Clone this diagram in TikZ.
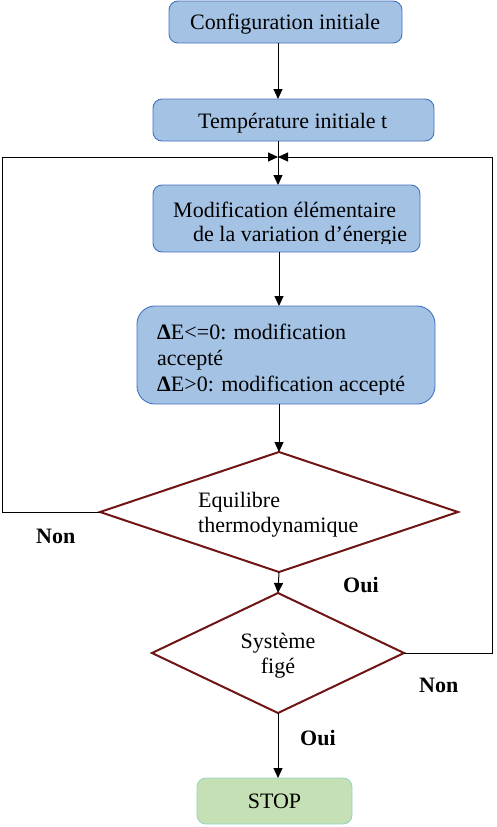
\documentclass[tikz,border=0pt]{standalone}
\usepackage{fontspec}
\setmainfont{Liberation Serif}
\usetikzlibrary{arrows.meta,shapes.geometric,calc}
\definecolor{bfill}{RGB}{164,194,228}
\definecolor{bline}{RGB}{68,114,196}
\definecolor{gfill}{RGB}{197,224,180}
\definecolor{gline}{RGB}{150,212,196}
\definecolor{dred}{RGB}{112,20,20}
\tikzset{
  bbox/.style={draw=bline,fill=bfill,line width=0.9pt,rounded corners=9pt,inner sep=0pt,outer sep=0pt},
  dbox/.style={draw=dred,line width=2pt,diamond,inner sep=0pt,outer sep=0pt},
  txt/.style={anchor=base west,inner sep=0pt,font=\fontsize{22}{26}\selectfont},
  lab/.style={anchor=base west,inner sep=0pt,font=\fontsize{22}{26}\selectfont\bfseries},
  arr/.style={draw=black,line width=1pt,-{Triangle[length=10pt,width=9pt]}}
}
\begin{document}
\begin{tikzpicture}[x=1pt,y=-1pt]
\useasboundingbox (0,0) rectangle (497,827);
\coordinate (spine) at (278,0);
\coordinate (join) at (278,157);
\coordinate (lx) at (2,0);
\coordinate (rx) at (492,0);
% boxes
\node[bbox,minimum width=233pt,minimum height=42pt] (b1) at (285.5,22) {};
\node[txt] (t1) at (190,29) {Configuration initiale};
\node[bbox,minimum width=281pt,minimum height=42pt] (b2) at (293.5,120) {};
\node[txt] (t2) at (198,128) {Température initiale t};
\node[bbox,minimum width=267pt,minimum height=67pt] (b3) at (286.5,218.5) {};
\begin{scope}
\clip (150,180) rectangle (425,243.5);
\node[txt] (t3a) at (173,217) {Modification élémentaire};
\node[txt] (t3b) at (193,241) {de la variation d’énergie};
\end{scope}
\node[bbox,rounded corners=18pt,minimum width=298pt,minimum height=98pt] (b4) at (286,355) {};
\begin{scope}
\clip (135,300) rectangle (440,394);
\node[txt] (t4a) at (157,339) {\textbf{Δ}E<=0: modification};
\node[txt] (t4b) at (157,365) {accepté};
\node[txt] (t4c) at (157,391) {\textbf{Δ}E>0: modification accepté};
\end{scope}
% decisions
\node[dbox,minimum width=358pt,minimum height=120pt] (d1) at (279,512) {};
\node[txt] (t5a) at (198,507) {Equilibre};
\node[txt] (t5b) at (198,532) {thermodynamique};
\node[dbox,minimum width=252pt,minimum height=120pt] (d2) at (278,653) {};
\node[txt,anchor=base] (t6a) at (278,648) {Système};
\node[txt,anchor=base] (t6b) at (278,673) {figé};
\node[bbox,draw=gline,fill=gfill,minimum width=155pt,minimum height=46pt] (stop) at (274.5,801) {};
\node[txt,anchor=base] (t7) at (274.5,808) {STOP};
% labels
\node[lab] (non1) at (36,543) {Non};
\node[lab] (oui1) at (343,592) {Oui};
\node[lab] (non2) at (419,692) {Non};
\node[lab] (oui2) at (300,745) {Oui};
% connectors
\draw[arr] (spine |- b1.south) -- (spine |- b2.north);
\draw[arr] (spine |- b2.south) -- (spine |- b3.north);
\draw[arr] (d1.north |- b3.south) -- (d1.north |- b4.north);
\draw[arr] (d1.north |- b4.south) -- (d1.north);
\draw[arr] (d1.south) -- (d2.north);
\draw[arr] (d2.south) -- (d2.south |- stop.north);
\draw[arr] (d1.west) -- (d1.west -| lx) -- (lx |- join) -- (join);
\draw[arr] (d2.east) -- (d2.east -| rx) -- (rx |- join) -- (join);
\end{tikzpicture}
\end{document}
